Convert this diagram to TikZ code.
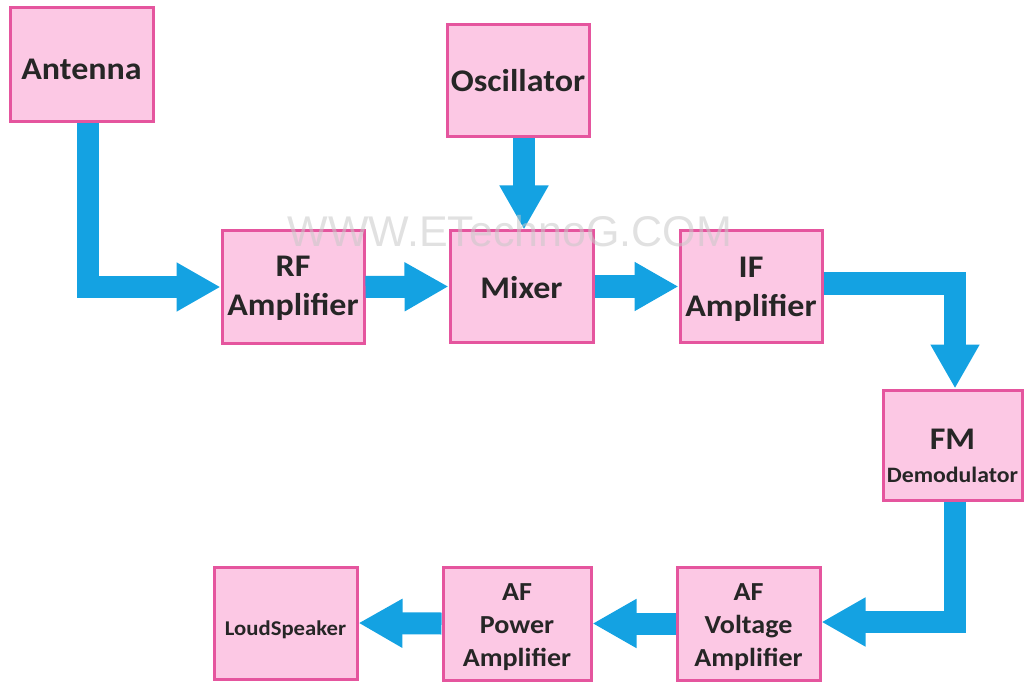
\documentclass[tikz,border=0pt]{standalone}
\usepackage{fontspec}
\setmainfont{Carlito}[FakeStretch=1.08]
\setsansfont{Liberation Sans}
\usetikzlibrary{arrows.meta}
\definecolor{boxfill}{HTML}{FCC8E4}
\definecolor{boxline}{HTML}{E5559E}
\definecolor{arrowblue}{HTML}{14A2E2}
\definecolor{wmark}{HTML}{C8C8C8}
\newcommand\boxtext[2]{\raisebox{-#1}[\height][\depth]{\begin{tabular}{@{}c@{}}#2\end{tabular}}}
\tikzset{
  blockbox/.style={draw=boxline, fill=boxfill, line width=3pt, inner sep=0pt,
    font=\bfseries\fontsize{31.5}{39}\selectfont, text=black!85},
  lowbox/.style={blockbox, font=\bfseries\fontsize{26}{33}\selectfont},
  fatarrow/.style={draw=arrowblue, line width=22pt, line join=miter,
    -{Triangle[length=44pt,width=46pt]}},
}
\begin{document}
\begin{tikzpicture}[x=1pt,y=-1pt]
\path[use as bounding box] (0,0) rectangle (1024,684);
\node[blockbox, minimum width=143pt, minimum height=114pt] (ant) at (81.5,65) {\boxtext{7pt}{Antenna}};
\node[blockbox, minimum width=142pt, minimum height=112pt] (osc) at (518,81) {\boxtext{3pt}{Oscillator}};
\node[blockbox, minimum width=142pt, minimum height=112pt] (rf) at (293,287) {\boxtext{1pt}{RF\\Amplifier}};
\node[blockbox, minimum width=143pt, minimum height=111pt] (mix) at (521.5,286.5) {\boxtext{4.5pt}{Mixer}};
\node[blockbox, minimum width=142pt, minimum height=111pt] (ifa) at (751,286.5) {\boxtext{3pt}{IF\\Amplifier}};
\node[blockbox, minimum width=139pt, minimum height=110pt] (fm) at (952.5,445)
  {\boxtext{13pt}{FM\\[-6pt]{\fontsize{22}{26}\selectfont Demodulator}}};
\node[blockbox, minimum width=143pt, minimum height=112pt, font=\bfseries\fontsize{21}{25}\selectfont] (ls) at (285.5,623) {\boxtext{7pt}{LoudSpeaker}};
\node[lowbox, minimum width=148pt, minimum height=113pt] (afp) at (517,623.5) {\boxtext{3pt}{AF\\Power\\Amplifier}};
\node[lowbox, minimum width=143pt, minimum height=113pt] (afv) at (748.5,623.5) {\boxtext{3pt}{AF\\Voltage\\Amplifier}};

\draw[fatarrow] ([xshift=6.5pt]ant.south) |- (rf.west);
\draw[fatarrow] (rf.east) -- (mix.west);
\draw[fatarrow] ([xshift=6pt]osc.south) -- ([xshift=6pt]osc.south |- mix.north);
\draw[fatarrow] (mix.east) -- (ifa.west);
\draw[fatarrow] ([yshift=3pt]ifa.east) -| ([xshift=2.5pt]fm.north);
\draw[fatarrow] ([xshift=2.5pt]fm.south) |- ([yshift=1.5pt]afv.east);
\draw[fatarrow] (afv.west) -- (afp.east);
\draw[fatarrow] (afp.west) -- (ls.east);

\node[text=wmark, opacity=0.55, font=\sffamily\fontsize{43}{43}\selectfont] (wm) at (510,231) {WWW.ETechnoG.COM};
\end{tikzpicture}
\end{document}
